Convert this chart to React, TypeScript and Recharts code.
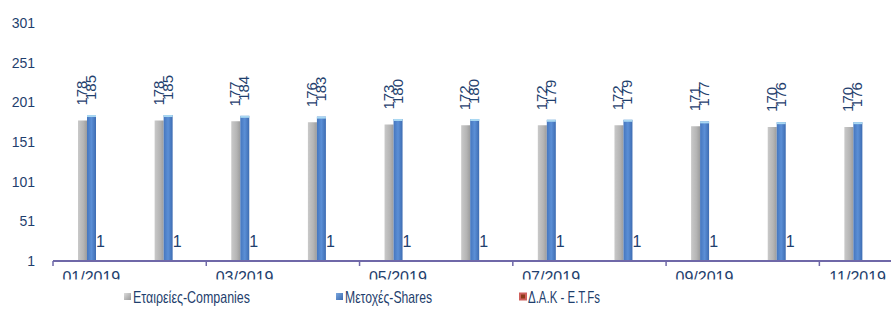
import React from "react";
import { BarChart, Bar, XAxis, YAxis, LabelList } from "recharts";

const months = ["01/2019","02/2019","03/2019","04/2019","05/2019","06/2019","07/2019","08/2019","09/2019","10/2019","11/2019"];
const companies = [178,178,177,176,173,172,172,172,171,170,170];
const shares = [185,185,184,183,180,180,179,179,177,176,176];
const etfs: (number | null)[] = [1,1,1,1,1,1,1,1,1,1,null];
const yTicks = [1,51,101,151,201,251,301];
const legendLabels = ["Εταιρείες-Companies", "Μετοχές-Shares", "Δ.Α.Κ - E.T.Fs"];

const data = months.map((m, i) => ({ m, companies: companies[i], shares: shares[i], etfs: etfs[i] }));

const W = 891;
const H = 314;
const LEFT = 53;
const RIGHT = -5;
const STEP = (W - LEFT - RIGHT) / months.length;
const NAVY = "#1F3F6E";
const AXIS = "#6F68A8";
const FONT = "Liberation Sans, Arial, sans-serif";

const XTick = (props: any) => {
  const { x, y, payload } = props;
  return (
    <g>
      <line x1={x - STEP / 2} x2={x - STEP / 2} y1={y} y2={y + 5} stroke={AXIS} strokeWidth={1.5} />
      <text x={x} y={y + 22} textAnchor="middle" fill={NAVY} fontSize={16} fontFamily={FONT} clipPath="url(#xclip)">
        {payload.value}
      </text>
    </g>
  );
};

const RotLabel = (props: any) => {
  const { x, y, width, value } = props;
  if (value == null) return null;
  const cx = x + width / 2 - 1;
  const ty = y - 15;
  return (
    <text x={cx} y={ty} transform={`rotate(-90 ${cx} ${ty})`} textAnchor="start" dominantBaseline="central" fill={NAVY} fontSize={15} fontFamily={FONT}>
      {value}
    </text>
  );
};

const BlueShape = (props: any) => {
  const { x, y, width, height } = props;
  if (!height || height <= 0) return null;
  return (
    <g>
      <rect x={x} y={y} width={width} height={height} fill="url(#blueGrad)" />
      <rect x={x} y={y} width={width} height={2} fill="#A9D8F2" />
    </g>
  );
};

const EtfShape = (props: any) => {
  const { x, y, width, height, value, etfs: v } = props;
  const val = v ?? (Array.isArray(value) ? value[1] : value);
  if (val == null) return null;
  return (
    <g>
      {height > 0 ? <rect x={x} y={y} width={width} height={height} fill="#C0504D" /> : null}
      <text x={x + width / 2} y={y - 14} textAnchor="middle" fill={NAVY} fontSize={16} fontFamily={FONT}>
        {val}
      </text>
    </g>
  );
};

const LegendBox = () => {
  const items = [
    { x: 124, w: 117, sw: <rect x={0} y={-4} width={7} height={7} fill="url(#lgGrey)" /> },
    { x: 336, w: 87, sw: <rect x={0} y={-4} width={7} height={7} fill="url(#lgBlue)" /> },
    { x: 519, w: 72, sw: <g><rect x={0} y={-4.5} width={8} height={8} fill="#D0605C" /><rect x={2} y={-2.5} width={4} height={4} fill="#8B3A1A" /></g> },
  ];
  return (
    <svg width={W} height={30} style={{ position: "absolute", left: 0, top: 284 }}>
      <defs>
        <linearGradient id="lgGrey" x1="0" y1="0" x2="1" y2="1">
          <stop offset="0%" stopColor="#dcdcdc" />
          <stop offset="100%" stopColor="#999" />
        </linearGradient>
        <linearGradient id="lgBlue" x1="0" y1="0" x2="1" y2="1">
          <stop offset="0%" stopColor="#7aa6de" />
          <stop offset="100%" stopColor="#3a6ab0" />
        </linearGradient>
      </defs>
      {items.map((it, i) => (
        <g key={i} transform={`translate(${it.x},13)`}>
          {it.sw}
          <text x={9} y={6} fill={NAVY} fontSize={16.5} fontFamily={FONT} textLength={it.w} lengthAdjust="spacingAndGlyphs">
            {legendLabels[i]}
          </text>
        </g>
      ))}
    </svg>
  );
};

export default function App() {
  return (
    <div style={{ position: "absolute", left: 0, top: 0, width: W, height: H, background: "#fff", overflow: "hidden" }}>
      <BarChart width={W} height={H} data={data} margin={{ top: 23, right: RIGHT, bottom: 29, left: 0 }} barGap={0} barSize={9}>
        <defs>
          <clipPath id="xclip" clipPathUnits="userSpaceOnUse">
            <rect x={0} y={0} width={W} height={279.5} />
          </clipPath>
          <linearGradient id="greyGrad" x1="0" y1="0" x2="1" y2="0">
            <stop offset="0%" stopColor="#C9C9C9" />
            <stop offset="60%" stopColor="#B5B5B5" />
            <stop offset="100%" stopColor="#9C9C9C" />
          </linearGradient>
          <linearGradient id="blueGrad" x1="0" y1="0" x2="1" y2="0">
            <stop offset="0%" stopColor="#4576BE" />
            <stop offset="50%" stopColor="#5B8FD6" />
            <stop offset="100%" stopColor="#3D6CB2" />
          </linearGradient>
        </defs>
        <XAxis
          dataKey="m"
          interval={1}
          height={24}
          axisLine={{ stroke: AXIS, strokeWidth: 2 }}
          tickLine={false}
          tickSize={0}
          tickMargin={0}
          tick={<XTick />}
        />
        <YAxis
          width={LEFT}
          domain={[1, 301]}
          ticks={yTicks}
          allowDataOverflow
          axisLine={false}
          tickLine={false}
          tickSize={0}
          tickMargin={18}
          tick={{ fill: NAVY, fontSize: 14, fontFamily: FONT }}
        />
        <Bar dataKey="companies" fill="url(#greyGrad)" isAnimationActive={false}>
          <LabelList dataKey="companies" content={<RotLabel />} />
        </Bar>
        <Bar dataKey="shares" fill="url(#blueGrad)" shape={<BlueShape />} isAnimationActive={false}>
          <LabelList dataKey="shares" content={<RotLabel />} />
        </Bar>
        <Bar dataKey="etfs" fill="#C0504D" shape={<EtfShape />} isAnimationActive={false} />
      </BarChart>
      <LegendBox />
    </div>
  );
}
